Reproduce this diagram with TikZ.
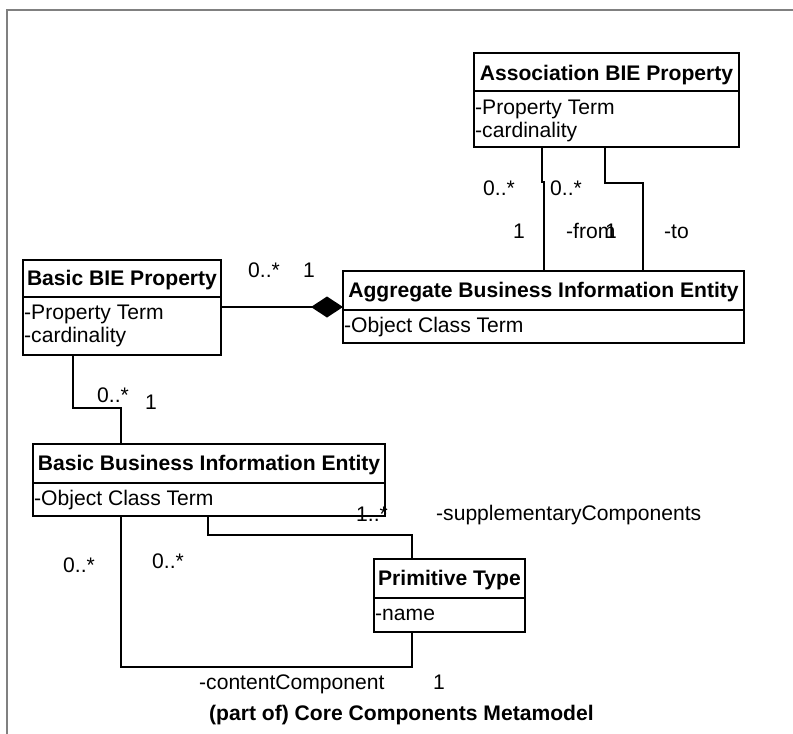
\documentclass[tikz,border=0pt]{standalone}
\usepackage{fontspec}
\setmainfont{Liberation Sans}
\usetikzlibrary{arrows.meta}

\tikzset{
  umlfont/.style={font={\fontsize{21.1}{23}\selectfont}},
  classbox/.style={draw, line width=2pt, inner sep=0pt, outer sep=0pt, anchor=north west},
  divider/.style={line width=2pt},
  conn/.style={line width=1.4pt},
  ttl/.style={umlfont, font={\fontsize{21.1}{23}\selectfont\bfseries}, inner sep=0pt, anchor=base},
  lbl/.style={umlfont, inner sep=0pt, anchor=base west},
  frameline/.style={line width=2pt, draw=black!50},
}

\begin{document}
\begin{tikzpicture}[x=1pt, y=-1pt]
\useasboundingbox (0,0) rectangle (793,734);

% outer frame (only the top and left edges fall inside the page)
\draw[frameline] (7,734) -- (7,10) -- (793,10);

% ---- classes ----
% Association BIE Property
\node[classbox, minimum width=265pt, minimum height=94pt] (asbie) at (474,53) {};
\draw[divider] (asbie.west |- 0,91) -- (asbie.east |- 0,91);
\node[ttl] (asbie-t) at (asbie.north |- 0,80) {Association BIE Property};
\node[lbl] (asbie-a1) at (475,114) {-Property Term};
\node[lbl] (asbie-a2) at (475,137) {-cardinality};

% Aggregate Business Information Entity
\node[classbox, minimum width=401pt, minimum height=72pt] (abie) at (343,271) {};
\draw[divider] (abie.west |- 0,310) -- (abie.east |- 0,310);
\node[ttl] (abie-t) at (abie.north |- 0,297) {Aggregate Business Information Entity};
\node[lbl] (abie-a1) at (344,332) {-Object Class Term};

% Basic BIE Property
\node[classbox, minimum width=198pt, minimum height=95pt] (bbiep) at (23,260) {};
\draw[divider] (bbiep.west |- 0,297) -- (bbiep.east |- 0,297);
\node[ttl] (bbiep-t) at (bbiep.north |- 0,285) {Basic BIE Property};
\node[lbl] (bbiep-a1) at (24,319) {-Property Term};
\node[lbl] (bbiep-a2) at (24,342) {-cardinality};

% Basic Business Information Entity
\node[classbox, minimum width=352pt, minimum height=72pt] (bbie) at (33,444) {};
\draw[divider] (bbie.west |- 0,483) -- (bbie.east |- 0,483);
\node[ttl] (bbie-t) at (bbie.north |- 0,470) {Basic Business Information Entity};
\node[lbl] (bbie-a1) at (34,505) {-Object Class Term};

% Primitive Type
\node[classbox, minimum width=151pt, minimum height=73pt] (prim) at (374,559) {};
\draw[divider] (prim.west |- 0,598) -- (prim.east |- 0,598);
\node[ttl] (prim-t) at (prim.north |- 0,585) {Primitive Type};
\node[lbl] (prim-a1) at (375,620) {-name};

% ---- associations ----
% Association BIE Property -> ABIE (from)
\draw[conn] (542,0 |- asbie.south) -- (542,182) -- (544,182) -- (544,0 |- abie.north);
% Association BIE Property -> ABIE (to)
\draw[conn] (605,0 |- asbie.south) -- (605,183) -- (643,183) -- (643,0 |- abie.north);
% Basic BIE Property <>- ABIE (composition)
\draw[conn, -{Diamond[length=32pt, width=21pt]}] (bbiep.east |- abie.west) -- (abie.west);
% Basic BIE Property -> Basic Business Information Entity
\draw[conn] (73,0 |- bbiep.south) -- (73,408) -- (121,408) -- (121,0 |- bbie.north);
% BBIE -> Primitive Type (supplementaryComponents)
\draw[conn] (208,0 |- bbie.south) -- (208,535) -- (412,535) -- (412,0 |- prim.north);
% BBIE -> Primitive Type (contentComponent)
\draw[conn] (121,0 |- bbie.south) -- (121,667) -- (412,667) -- (412,0 |- prim.south);

% ---- multiplicities and role names ----
\node[lbl] (m1) at (248,277) {0..*};
\node[lbl] (m2) at (303,277) {1};

\node[lbl] (m3) at (483,195) {0..*};
\node[lbl] (m4) at (550,195) {0..*};
\node[lbl] (m5) at (513,238) {1};
\node[lbl] (r1) at (566,238) {-from};
\node[lbl] (m6) at (605,238) {1};
\node[lbl] (r2) at (664,238) {-to};

\node[lbl] (m7) at (97,402) {0..*};
\node[lbl] (m8) at (145,409) {1};

\node[lbl] (m9) at (356,521) {1..*};
\node[lbl] (r3) at (436,520) {-supplementaryComponents};

\node[lbl] (m10) at (63,572) {0..*};
\node[lbl] (m11) at (152,568) {0..*};
\node[lbl] (r4) at (199,689) {-contentComponent};
\node[lbl] (m12) at (433,689) {1};

% caption
\node[lbl, font={\fontsize{21.1}{23}\selectfont\bfseries}] (caption) at (209,720) {(part of) Core Components Metamodel};
\end{tikzpicture}
\end{document}
